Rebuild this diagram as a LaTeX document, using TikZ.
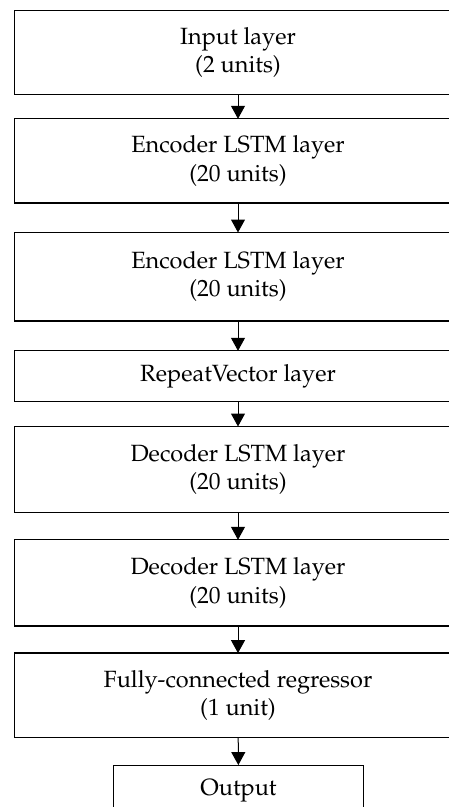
\documentclass[tikz,border=0pt]{standalone}
\usepackage[T1]{fontenc}
\usepackage{mathpazo}
\usetikzlibrary{arrows.meta}
\begin{document}
\begin{tikzpicture}[x=1pt,y=-1pt,
  layerbox/.style={minimum width=446pt, align=center,
    inner sep=0pt, font=\fontsize{23.5}{28.5}\selectfont},
  frame/.style={line width=1.3pt},
  flow/.style={-{Triangle[length=13pt,width=14pt]}, line width=1pt}]
\useasboundingbox (0,0) rectangle (449,807);
\clip (0,0) rectangle (449,807);
% stacked layers of the sequence-to-sequence LSTM model
\node[layerbox, minimum height=83.3pt] (in)   at (238,52.35)  {Input layer\\(2 units)};
\node[layerbox, minimum height=83.7pt] (enc1) at (238,160.85) {Encoder LSTM layer\\(20 units)};
\node[layerbox, minimum height=88pt]   (enc2) at (238,276.7)  {Encoder LSTM layer\\(20 units)};
\node[layerbox, minimum height=50pt]   (rep)  at (238,376)    {RepeatVector layer};
\node[layerbox, minimum height=85.6pt] (dec1) at (238,469.5)  {Decoder LSTM layer\\(20 units)};
\node[layerbox, minimum height=85.7pt] (dec2) at (238,582.85) {Decoder LSTM layer\\(20 units)};
\node[layerbox, minimum height=84pt]   (fc)   at (238,695.3)  {Fully-connected regressor\\(1 unit)};
\node[layerbox, draw, line width=1.3pt, minimum height=50pt, minimum width=250.4pt] (out) at (238.5,790.7) {Output};
% frames of the wide layers run on past the right margin
\foreach \n in {in,enc1,enc2,rep,dec1,dec2,fc}
  \draw[frame] (\n.south west) rectangle ([xshift=60pt]\n.north east);
% data flow between consecutive layers
\draw[flow] (in)   -- (enc1);
\draw[flow] (enc1) -- (enc2);
\draw[flow] (enc2) -- (rep);
\draw[flow] (rep)  -- (dec1);
\draw[flow] (dec1) -- (dec2);
\draw[flow] (dec2) -- (fc);
\draw[flow] (fc)   -- (out);
\end{tikzpicture}
\end{document}
